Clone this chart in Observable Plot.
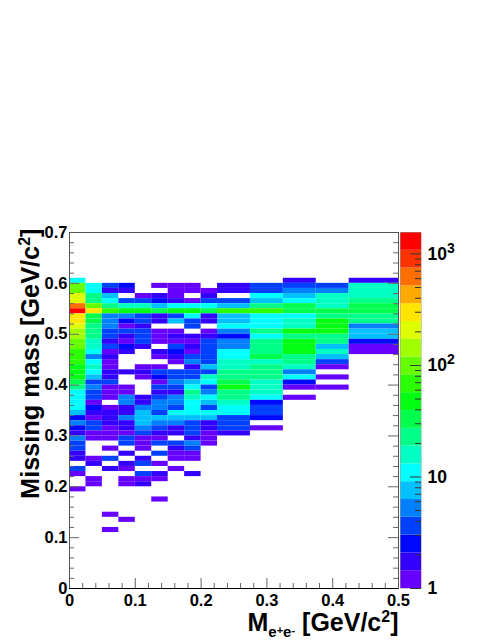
<!DOCTYPE html>
<html>
<head>
<meta charset="utf-8">
<script src="https://cdn.jsdelivr.net/npm/d3@7"></script>
<script src="https://cdn.jsdelivr.net/npm/@observablehq/plot@0.6"></script>
<style>
html,body{margin:0;padding:0;background:#fff}
#wrap{position:relative;width:496px;height:642px;overflow:hidden}
#wrap svg{position:absolute;left:0;top:0;background:transparent}
</style>
</head>
<body>
<div id="wrap"></div>
<script>
// Me+e- bin edges (GeV/c2)
const xEdges = [0,0.025,0.05,0.075,0.1,0.125,0.15,0.175,0.2,0.225,0.275,0.325,0.375,0.425,0.5];
// upper edge of the top row, and the row height (GeV/c2)
const yTop = 0.61, yStep = 0.01;
const r00 = [11,0,0,0,0,0,0,0,0,0,0,2,0,2];
const r01 = [98,11,4,3,0,1,1,1,0,2,4,4,4,16];
const r02 = [98,11,2,2,0,0,1,1,1,2,4,5,5,16];
const r03 = [200,23,7,0,1,2,1,0,2,0,11,7,16,16];
const r04 = [200,23,11,4,4,3,2,1,4,4,7,11,16,23];
const r05 = [600,98,23,16,16,7,11,11,11,7,23,32,16,32];
const r06 = [1280,290,68,47,47,32,47,47,32,68,68,32,32,32];
const r07 = [290,32,5,5,4,2,4,11,2,7,11,11,23,23];
const r08 = [290,32,5,3,4,2,7,4,2,7,11,16,47,23];
const r09 = [200,23,5,1,2,0,0,4,0,11,11,16,47,5];
const r10 = [140,23,4,4,4,1,1,0,1,5,23,47,47,7];
const r11 = [140,23,4,2,4,1,2,2,2,3,11,23,23,7];
const r12 = [98,16,2,1,4,1,1,1,4,5,23,47,23,3];
const r13 = [98,16,4,3,2,0,4,2,4,5,23,47,7,1];
const r14 = [68,11,1,2,0,2,3,1,4,11,23,47,16,1];
const r15 = [68,5,2,0,0,1,2,4,4,11,32,23,7,0];
const r16 = [68,11,1,0,0,0,1,5,4,16,16,23,4,0];
const r17 = [47,16,1,0,1,1,0,2,7,16,23,16,1,0];
const r18 = [47,11,2,2,2,4,4,4,4,23,23,5,0,0];
const r19 = [47,7,2,0,1,3,4,4,16,23,23,11,1,0];
const r20 = [32,4,4,0,0,1,5,7,11,32,16,3,0,0];
const r21 = [23,5,1,1,0,4,4,11,4,47,16,1,1,0];
const r22 = [11,4,1,1,0,2,2,23,5,23,16,0,0,0];
const r23 = [11,4,1,5,2,4,5,16,11,23,11,1,0,0];
const r24 = [11,1,0,5,2,5,5,11,7,16,3,0,0,0];
const r25 = [11,3,1,2,5,5,4,11,4,11,4,0,0,0];
const r26 = [7,2,2,2,7,4,11,11,11,11,4,0,0,0];
const r27 = [3,1,2,5,7,7,7,7,7,4,3,0,0,0];
const r28 = [5,4,2,2,7,5,5,4,2,4,0,0,0,0];
const r29 = [3,4,1,2,5,4,2,4,2,4,1,0,0,0];
const r30 = [2,1,1,1,4,2,2,4,1,2,0,0,0,0];
const r31 = [5,1,1,4,1,1,0,2,1,0,0,0,0,0];
const r32 = [4,0,0,4,1,4,4,5,1,0,0,0,0,0];
const r33 = [4,0,1,0,1,0,2,4,0,0,0,0,0,0];
const r34 = [2,0,0,2,0,4,1,1,0,0,0,0,0,0];
const r35 = [2,1,4,0,2,0,1,1,0,0,0,0,0,0];
const r36 = [0,2,0,2,4,1,0,0,0,0,0,0,0,0];
const r37 = [4,0,2,1,0,0,1,0,0,0,0,0,0,0];
const r38 = [1,0,0,0,4,2,0,2,0,0,0,0,0,0];
const r39 = [0,1,0,1,1,1,0,0,0,0,0,0,0,0];
const r40 = [0,1,0,1,2,0,0,0,0,0,0,0,0,0];
const r41 = [1,0,0,0,0,0,0,0,0,0,0,0,0,0];
const r42 = [0,0,0,0,0,0,0,0,0,0,0,0,0,0];
const r43 = [0,0,0,0,0,1,0,0,0,0,0,0,0,0];
const r44 = [0,0,0,0,0,0,0,0,0,0,0,0,0,0];
const r45 = [0,0,0,0,0,0,0,0,0,0,0,0,0,0];
const r46 = [0,0,1,0,0,0,0,0,0,0,0,0,0,0];
const r47 = [0,0,0,1,0,0,0,0,0,0,0,0,0,0];
const r48 = [0,0,0,0,0,0,0,0,0,0,0,0,0,0];
const r49 = [0,0,1,0,0,0,0,0,0,0,0,0,0,0];
const rows = [r00,r01,r02,r03,r04,r05,r06,r07,r08,r09,r10,r11,r12,r13,r14,r15,r16,r17,r18,r19,r20,r21,r22,r23,r24,r25,r26,r27,r28,r29,r30,r31,r32,r33,r34,r35,r36,r37,r38,r39,r40,r41,r42,r43,r44,r45,r46,r47,r48,r49];

// colour palette and the count at each palette boundary
const palette = ["#6600ff","#3300ff","#0008ff","#0040ff","#0080ff","#00c0ff","#00ffff","#00ffc4","#00ff88","#00ff4c","#00ff11","#2bff00","#66ff00","#a2ff00","#ddff00","#ffe500","#ffaa00","#ff6e00","#ff3300","#ff0000"];
const bandEdges = [1,1.444,2.085,3.01,4.35,6.28,9.07,13.1,18.9,27.3,39.5,57,82.3,118.8,171.6,247.8,357.8,516.7,746,1077,1556];

// axis ticks and labels
const xMajor = [0,0.1,0.2,0.3,0.4,0.5];
const xMinor = [0.02,0.04,0.06,0.08,0.12,0.14,0.16,0.18,0.22,0.24,0.26,0.28,0.32,0.34,0.36,0.38,0.42,0.44,0.46,0.48];
const yMajor = [0,0.1,0.2,0.3,0.4,0.5,0.6,0.7];
const yMinor = [0.02,0.04,0.06,0.08,0.12,0.14,0.16,0.18,0.22,0.24,0.26,0.28,0.32,0.34,0.36,0.38,0.42,0.44,0.46,0.48,0.52,0.54,0.56,0.58,0.62,0.64,0.66,0.68];
const zMajor = [1,10,100,1000];
const zMinor = [2,3,4,5,6,7,8,9,20,30,40,50,60,70,80,90,200,300,400,500,600,700,800,900];
const zLabels = {1:"1",10:"10",100:"10^2",1000:"10^3"};
const yTitle = "Missing mass [GeV/c2]";
const xTitle = "Me+e- [GeV/c2]";

const cells = rows.flatMap((row, r) => row.map((count, c) => ({
  x1: xEdges[c], x2: xEdges[c + 1],
  y1: yTop - (r + 1) * yStep, y2: yTop - r * yStep, count
}))).filter(d => d.count > 0);

const color = {type: "threshold", domain: bandEdges.slice(1, -1), range: palette};
const font = "'Liberation Sans', Arial, sans-serif";
const fmt = d => d === 0 ? "0" : d.toFixed(1);
const axisStroke = "#666";

const main = Plot.plot({
  width: 496, height: 642,
  marginLeft: 69, marginRight: 98, marginTop: 232, marginBottom: 54,
  style: {fontFamily: font, background: "transparent"},
  x: {domain: [0, 0.5]},
  y: {domain: [0, 0.7]},
  color,
  marks: [
    Plot.rect(cells, {x1: "x1", x2: "x2", y1: "y1", y2: "y2", fill: "count"}),
    Plot.tickY(yMajor, {y: d => d, insetRight: 319, stroke: axisStroke}),
    Plot.tickY(yMinor, {y: d => d, insetRight: 324, stroke: axisStroke}),
    Plot.tickY(yMajor, {y: d => d, insetLeft: 319, stroke: axisStroke}),
    Plot.tickY(yMinor, {y: d => d, insetLeft: 324, stroke: axisStroke}),
    Plot.tickX(xMajor, {x: d => d, insetTop: 346, stroke: axisStroke}),
    Plot.tickX(xMinor, {x: d => d, insetTop: 351, stroke: axisStroke}),
    Plot.frame({stroke: "#555", strokeWidth: 1}),
    Plot.ruleY([0], {stroke: "#000"}),
    Plot.axisY(yMajor, {anchor: "left", tickSize: 0, tickPadding: 2, tickFormat: fmt, fontSize: 16.5, fontWeight: "bold", fill: "#000", label: null}),
    Plot.axisX(xMajor, {anchor: "bottom", tickSize: 0, tickPadding: 6, tickFormat: fmt, fontSize: 16.5, fontWeight: "bold", fill: "#000", label: null}),
    Plot.text([yTitle], {frameAnchor: "top-left", rotate: -90, textAnchor: "end", dx: -48, dy: -4, fontSize: 25.3, fontWeight: "bold", fill: "#000", className: "ytitle"}),
    Plot.text([xTitle], {frameAnchor: "bottom-right", textAnchor: "end", dy: 42, fontSize: 25, fontWeight: "bold", fill: "#000", className: "xtitle"})
  ]
});

// sub/superscripts of the axis titles, kept as real text
d3.select(main).selectAll(".ytitle text").each(function () {
  const t = d3.select(this).text("");
  t.append("tspan").text("Missing mass [GeV/c");
  t.append("tspan").attr("dy", -9).attr("font-size", 16).text("2");
  t.append("tspan").attr("dy", 9).text("]");
});
d3.select(main).selectAll(".xtitle text").each(function () {
  const t = d3.select(this).text("");
  t.append("tspan").text("M");
  t.append("tspan").attr("dy", 6).attr("font-size", 15).text("e");
  t.append("tspan").attr("dy", -3).attr("font-size", 11).text("+");
  t.append("tspan").attr("dy", 3).attr("font-size", 15).text("e");
  t.append("tspan").attr("dy", -3).attr("font-size", 11).text("-");
  t.append("tspan").attr("dy", -3).text(" [GeV/c");
  t.append("tspan").attr("dy", -9).attr("font-size", 16).text("2");
  t.append("tspan").attr("dy", 9).text("]");
});

const bands = palette.map((p, i) => ({lo: bandEdges[i], hi: bandEdges[i + 1], mid: Math.sqrt(bandEdges[i] * bandEdges[i + 1])}));

const bar = Plot.plot({
  width: 496, height: 642,
  marginLeft: 400, marginRight: 75, marginTop: 232, marginBottom: 54,
  style: {fontFamily: font, background: "transparent"},
  x: {domain: [0, 1], axis: null},
  y: {type: "log", domain: [1, 1556], axis: null},
  color,
  marks: [
    Plot.rect(bands, {x1: 0, x2: 1, y1: "lo", y2: "hi", fill: "mid"}),
    Plot.frame({stroke: "#999", strokeWidth: 0.5}),
    Plot.tickY(zMajor, {y: d => d, insetLeft: 10, stroke: "#333"}),
    Plot.tickY(zMinor, {y: d => d, insetLeft: 15, stroke: "#333"}),
    Plot.axisY(zMajor, {anchor: "right", tickSize: 0, tickPadding: 6, tickFormat: d => zLabels[d], fontSize: 17.5, fontWeight: "bold", fill: "#000", label: null})
  ]
});

// exponents of the palette labels, kept as real text
d3.select(bar).selectAll("text").each(function () {
  const label = this.textContent;
  if (!label.includes("^")) return;
  const [base, exp] = label.split("^");
  const t = d3.select(this).text("");
  t.append("tspan").text(base);
  t.append("tspan").attr("dy", -7).attr("font-size", 14).text(exp);
});

const wrap = document.getElementById("wrap");
wrap.append(main, bar);
</script>
</body>
</html>
